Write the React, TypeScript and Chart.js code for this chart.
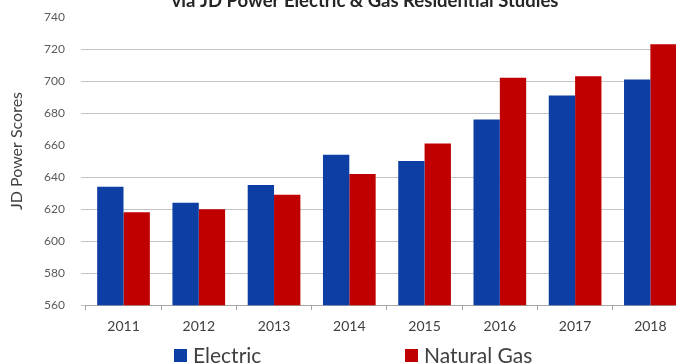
import React, { useEffect, useRef } from "react";
import { Chart, registerables } from "chart.js";

Chart.register(...registerables);

const years = ["2011", "2012", "2013", "2014", "2015", "2016", "2017", "2018"];
const electric = [634, 624, 635, 654, 650, 676, 691, 701];
const naturalGas = [618, 620, 629, 642, 661, 702, 703, 723];
const seriesNames = ["Electric", "Natural Gas"];
const titleText = "via JD Power Electric & Gas Residential Studies";
const yTitle = "JD Power Scores";
const yMin = 560;
const yMax = 740;
const yStep = 20;
const hiddenGridValues = [660, 740];

const BLUE = "#0D3EA3";
const RED = "#C00000";
const FONT = "Lato, 'Open Sans', sans-serif";

const overlayPlugin = {
  id: "overlay",
  afterDraw(chart: any) {
    const ctx = chart.ctx;
    ctx.save();
    // title (cut off at top, as in the reference)
    ctx.fillStyle = "#262626";
    ctx.font = `bold 18.5px ${FONT}`;
    ctx.textAlign = "center";
    ctx.textBaseline = "alphabetic";
    ctx.fillText(titleText, 365, 7);
    // y axis title
    ctx.save();
    ctx.translate(17, 151);
    ctx.rotate(-Math.PI / 2);
    ctx.font = `16px ${FONT}`;
    ctx.fillStyle = "#404040";
    ctx.textAlign = "center";
    ctx.textBaseline = "middle";
    ctx.fillText(yTitle, 0, 0);
    ctx.restore();
    // legend
    const items = [
      { text: seriesNames[0], color: BLUE, x: 174 },
      { text: seriesNames[1], color: RED, x: 405 },
    ];
    ctx.font = `21px ${FONT}`;
    ctx.textAlign = "left";
    ctx.textBaseline = "middle";
    items.forEach((it) => {
      ctx.fillStyle = it.color;
      ctx.fillRect(it.x, 349, 13, 13);
      ctx.fillStyle = "#404040";
      ctx.fillText(it.text, it.x + 19, 356);
    });
    ctx.restore();
  },
};

export default function App() {
  const ref = useRef<HTMLCanvasElement | null>(null);
  useEffect(() => {
    if (!ref.current) return;
    const chart = new Chart(ref.current, {
      type: "bar",
      data: {
        labels: years,
        datasets: [
          { label: seriesNames[0], data: electric, backgroundColor: BLUE },
          { label: seriesNames[1], data: naturalGas, backgroundColor: RED },
        ],
      },
      options: {
        responsive: false,
        animation: false,
        layout: { padding: { left: 28, right: 24, top: 17, bottom: 21 } },
        datasets: {
          bar: { categoryPercentage: 0.7, barPercentage: 1.0 },
        },
        plugins: {
          legend: { display: false },
          title: { display: false },
          tooltip: { enabled: false },
        },
        scales: {
          x: {
            grid: {
              display: true,
              drawOnChartArea: false,
              tickLength: 5,
              color: "#A6A6A6",
              offset: true,
            },
            border: { display: true, color: "#A6A6A6" },
            ticks: { color: "#404040", font: { family: FONT, size: 14 }, padding: 8 },
          },
          y: {
            min: yMin,
            max: yMax,
            afterFit: (scale: any) => {
              scale.paddingTop = 0;
              scale.paddingBottom = 0;
            },
            ticks: {
              stepSize: yStep,
              color: "#595959",
              font: { family: FONT, size: 12 },
              padding: 16,
            },
            grid: {
              tickLength: 5,
              color: (c: any) =>
                c.tick && hiddenGridValues.includes(c.tick.value) ? "rgba(0,0,0,0)" : "#C4C4C4",
            },
            border: { display: false },
            title: { display: false },
          },
        },
      },
      plugins: [overlayPlugin],
    });
    return () => chart.destroy();
  }, []);
  return (
    <div
      style={{
        position: "fixed",
        left: 0,
        top: 0,
        width: 676,
        height: 364,
        overflow: "hidden",
        background: "#fff",
      }}
    >
      <canvas ref={ref} width={712} height={364} style={{ display: "block" }} />
    </div>
  );
}
